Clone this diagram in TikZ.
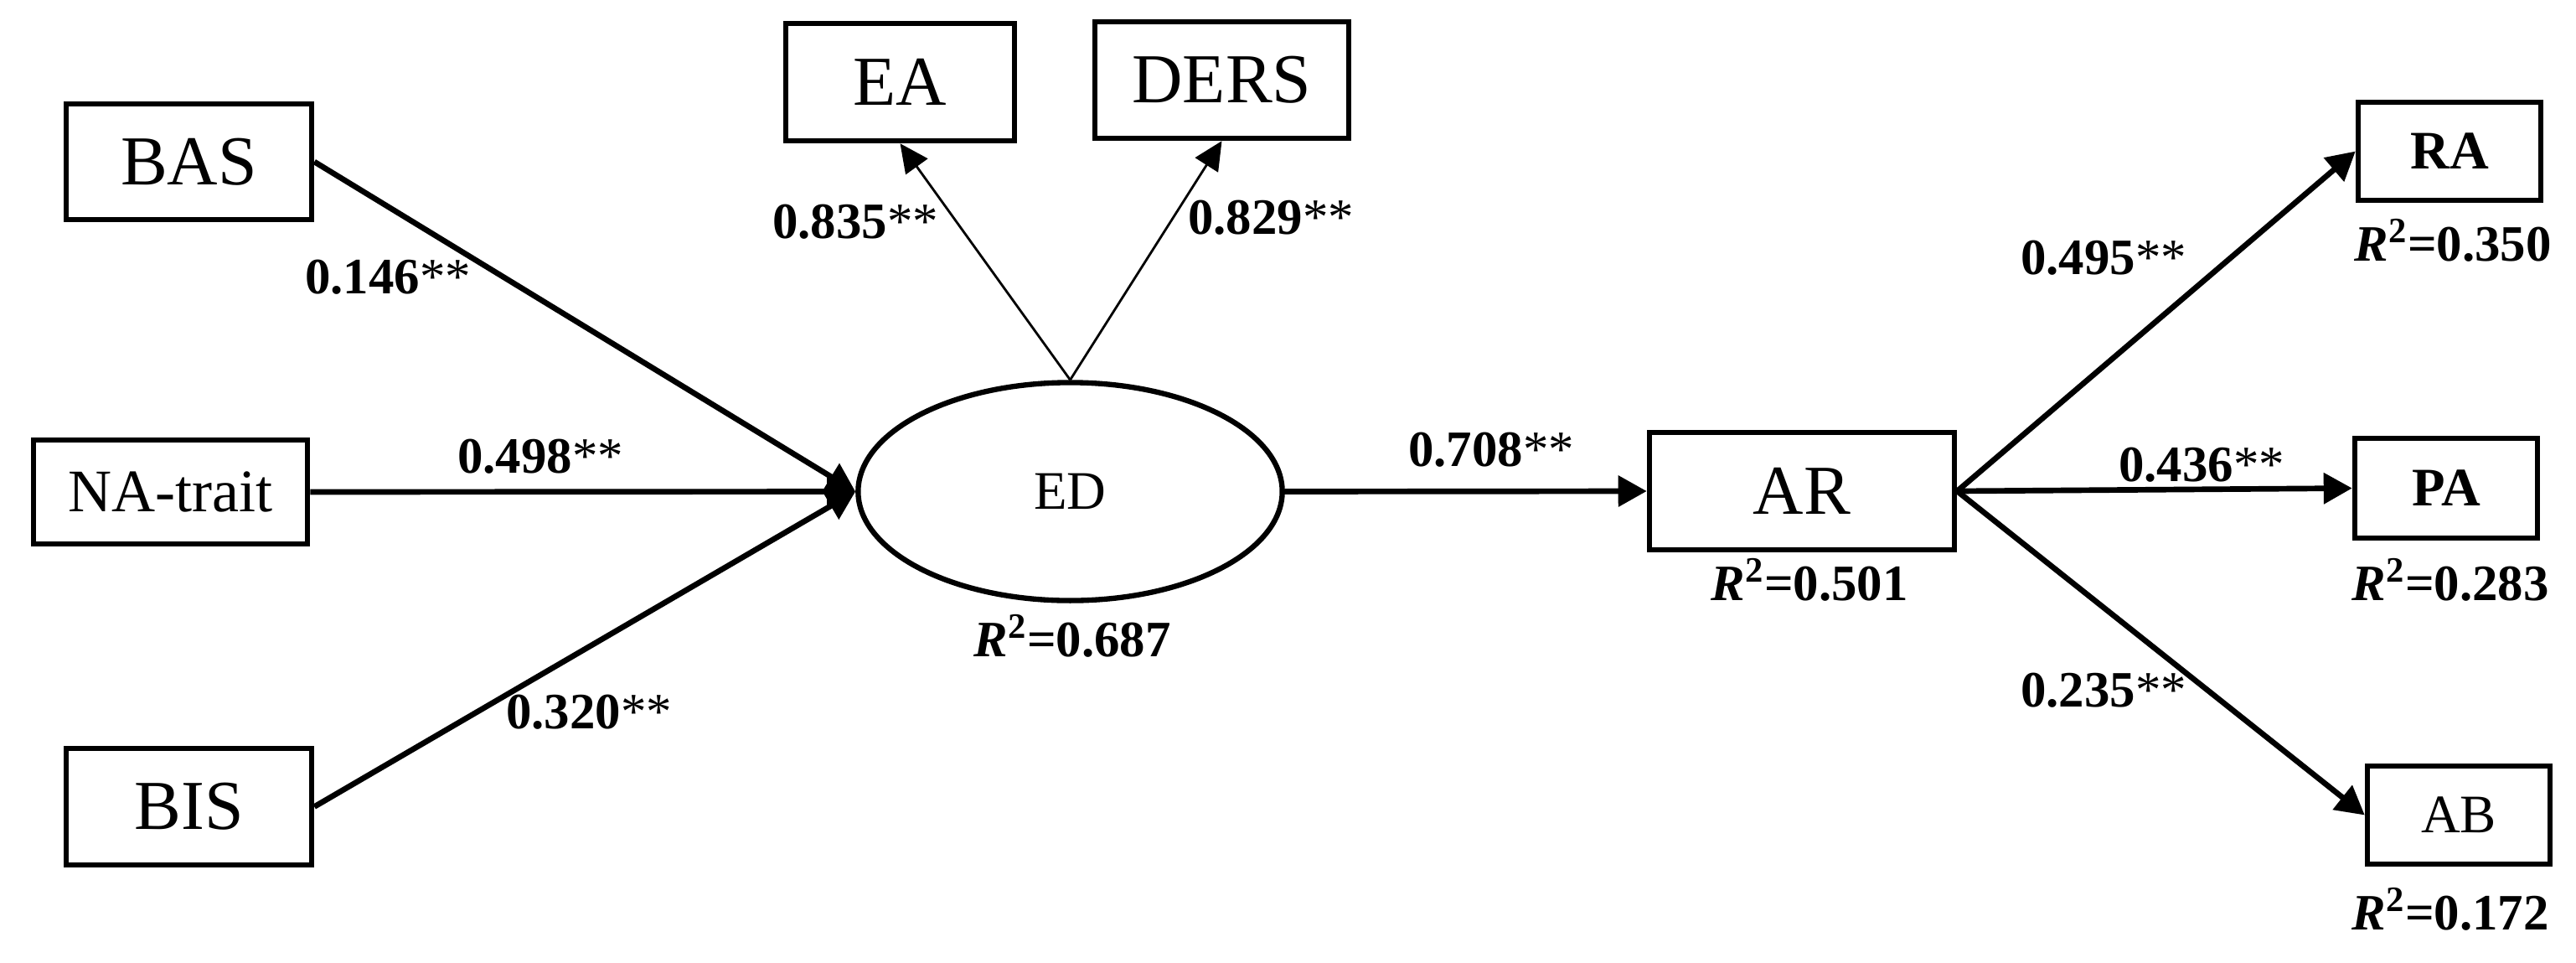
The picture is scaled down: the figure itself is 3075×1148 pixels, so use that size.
\documentclass[tikz,border=0pt]{standalone}
\usepackage{fontspec}
\setmainfont{Liberation Serif}
\usetikzlibrary{shapes.geometric,arrows.meta}
\begin{document}
\begin{tikzpicture}[x=0.01cm,y=-0.01cm,
  box/.style={draw, line width=1.8pt, rectangle, inner sep=0pt},
  bigtxt/.style={font=\fontsize{23.8}{26}\selectfont},
  natxt/.style={font=\fontsize{20.5}{24}\selectfont},
  midtxt/.style={font=\fontsize{18.4}{21}\selectfont},
  coef/.style={font=\fontsize{17.3}{20}\selectfont, inner sep=0pt},
  thickarr/.style={line width=1.9pt, -{Triangle[length=0.34cm,width=0.36cm]}},
  thinarr/.style={line width=0.8pt, -{Triangle[length=0.34cm,width=0.32cm]}},
]
\useasboundingbox (0,0) rectangle (3075,1148);
% nodes
\node[box,bigtxt,minimum width=2.93cm,minimum height=1.38cm] (BAS) at (225.5,193) {BAS};
\node[box,natxt,minimum width=3.27cm,minimum height=1.24cm] (NA) at (203.5,587) {NA-trait};
\node[box,bigtxt,minimum width=2.93cm,minimum height=1.39cm] (BIS) at (225.5,962.5) {BIS};
\node[box,bigtxt,minimum width=2.73cm,minimum height=1.40cm] (EA) at (1074.5,98) {EA};
\node[box,bigtxt,minimum width=3.03cm,minimum height=1.39cm] (DERS) at (1458.5,95.5) {DERS};
\node[draw,line width=1.8pt,ellipse,inner sep=0pt,midtxt,minimum width=5.06cm,minimum height=2.60cm] (ED) at (1277.5,586.5) {ED};
\node[box,bigtxt,minimum width=3.64cm,minimum height=1.40cm] (AR) at (2151,586) {AR};
\node[box,midtxt,minimum width=2.18cm,minimum height=1.17cm] (RA) at (2924,180.5) {\textbf{RA}};
\node[box,midtxt,minimum width=2.18cm,minimum height=1.19cm] (PA) at (2920,582.5) {\textbf{PA}};
\node[box,midtxt,minimum width=2.18cm,minimum height=1.17cm] (AB) at (2935,972.5) {AB};
% connectors
\draw[thickarr] (BAS.east) -- (ED.west);
\draw[thickarr] (NA.east) -- (ED.west);
\draw[thickarr] (BIS.east) -- (ED.west);
\draw[thinarr] (ED.north) -- (EA.south);
\draw[thinarr] (ED.north) -- (DERS.south);
\draw[thickarr] (ED.east) -- (AR.west);
\draw[thickarr] (AR.east) -- (RA.west);
\draw[thickarr] (AR.east) -- (PA.west);
\draw[thickarr] (AR.east) -- (AB.west);
% coefficient labels
\node[coef] (c146) at (463,331) {\textbf{0.146}**};
\node[coef] (c498) at (645,545) {\textbf{0.498}**};
\node[coef] (c320) at (703,850) {\textbf{0.320}**};
\node[coef] (c835) at (1021,265) {\textbf{0.835}**};
\node[coef] (c829) at (1517,260) {\textbf{0.829}**};
\node[coef] (c708) at (1780,537) {\textbf{0.708}**};
\node[coef] (c495) at (2511,308) {\textbf{0.495}**};
\node[coef] (c436) at (2628,555) {\textbf{0.436}**};
\node[coef] (c235) at (2511,824) {\textbf{0.235}**};
% R squared labels
\node[coef] (r687) at (1280,759) {\textbf{\textit{R}\textsuperscript{2}=0.687}};
\node[coef] (r501) at (2160,692) {\textbf{\textit{R}\textsuperscript{2}=0.501}};
\node[coef] (r350) at (2928,287) {\textbf{\textit{R}\textsuperscript{2}=0.350}};
\node[coef] (r283) at (2925,692) {\textbf{\textit{R}\textsuperscript{2}=0.283}};
\node[coef] (r172) at (2925,1085) {\textbf{\textit{R}\textsuperscript{2}=0.172}};
\end{tikzpicture}
\end{document}
